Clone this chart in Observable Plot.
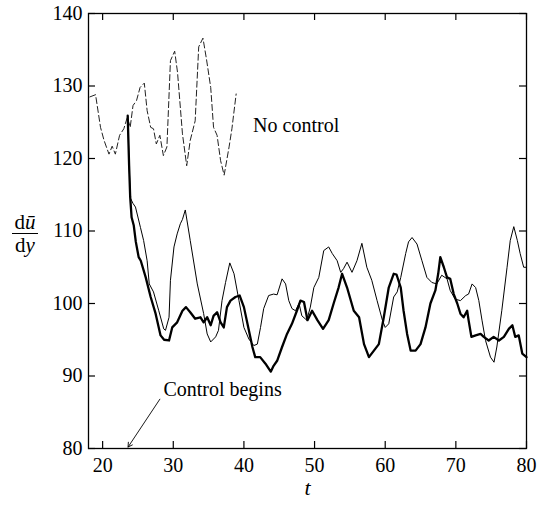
<!DOCTYPE html>
<html>
<head>
<meta charset="utf-8">
<script src="https://cdn.jsdelivr.net/npm/d3@7"></script>
<script src="https://cdn.jsdelivr.net/npm/@observablehq/plot@0.6"></script>
<style>
  body { margin: 0; background: #fff; }
  #chart svg, #chart svg text, #chart svg tspan { font-family: "Liberation Serif", "Tinos", "Times New Roman", Times, "Nimbus Roman", "Nimbus Roman No9 L", "FreeSerif", "Noto Serif", "DejaVu Serif", serif !important; }
</style>
</head>
<body>
<div id="chart"></div>
<script>
// ---- data ----
const xTicks = [20, 30, 40, 50, 60, 70, 80];
const yTicks = [80, 90, 100, 110, 120, 130, 140];

// No control (dashed)
const noCtrlT = [18.2,19.0,19.7,20.2,20.9,21.35,21.8,22.4,23.0,23.5,23.9,24.3,24.8,25.3,25.6,25.9,26.3,26.8,27.2,27.6,28.1,28.6,29.1,29.6,30.2,30.6,31.3,31.9,32.4,33.1,33.6,34.2,34.7,35.3,35.7,36.2,36.7,37.2,37.9,38.3,38.9];
const noCtrlV = [128.5,128.8,124.3,122.5,120.6,121.7,120.6,123.2,124.1,125.7,124.3,127.3,128.0,129.8,130.1,130.4,126.6,124.3,124.1,122.0,123.2,120.4,121.6,133.5,134.8,131.9,123.4,119.0,122.5,125.2,135.4,136.6,133.7,129.8,124.3,123.2,119.7,117.7,121.6,124.1,128.9];

// Control, thin line
const thinT = [23.55,23.75,23.95,24.3,24.65,25.35,25.8,26.3,26.6,27.2,27.95,28.65,28.9,29.4,29.6,30.1,30.55,31.0,31.3,31.7,32.4,33.4,34.3,34.8,35.3,36.0,36.4,36.9,37.4,38.0,38.6,39.3,40.0,40.7,41.4,41.9,42.35,42.8,43.5,44.2,44.7,45.4,45.9,46.35,46.8,47.3,47.8,48.2,48.9,49.4,49.9,50.6,51.3,52.0,52.5,53.2,53.7,54.1,54.6,55.3,56.0,56.7,57.4,58.1,58.85,59.6,60.0,60.5,61.2,61.7,62.2,62.9,63.3,63.8,64.5,65.2,65.9,66.6,67.3,68.0,68.75,69.2,69.9,70.65,71.4,71.8,72.3,72.8,73.25,73.7,74.2,74.9,75.4,75.8,76.5,77.25,77.7,78.2,78.7,79.1,79.6,80.0];
const thinV = [125.9,119.0,114.5,113.8,113.3,110.5,108.7,105.9,102.7,101.6,99.0,96.5,96.3,98.1,103.2,107.8,109.6,111.0,111.6,112.9,108.7,102.7,98.6,95.8,94.7,95.4,96.3,100.4,102.9,105.6,104.1,100.4,96.7,95.1,94.2,94.4,96.7,99.3,101.1,101.3,101.2,103.4,102.7,100.4,99.3,99.0,100.0,98.3,97.7,99.5,102.2,103.6,107.3,107.8,106.9,105.9,104.3,104.8,105.7,104.3,105.9,108.3,105.0,103.2,100.4,97.7,96.7,97.2,100.9,101.6,103.6,106.9,108.5,109.1,108.2,105.9,103.6,102.9,102.7,103.9,103.4,101.8,100.6,100.4,101.1,101.3,102.7,102.2,100.4,97.7,94.9,92.6,91.9,94.0,99.0,105.0,108.7,110.6,108.7,106.9,105.0,105.0];

// Control, thick line
const thickT = [23.55,23.75,23.9,24.1,24.4,24.7,25.1,25.4,26.1,26.8,27.5,28.2,28.7,29.4,29.85,30.55,31.3,31.8,32.4,33.1,33.85,34.3,34.8,35.3,35.7,36.2,36.7,37.15,37.6,38.1,38.8,39.4,40.0,40.7,41.2,41.6,42.3,43.05,43.8,44.2,44.7,45.4,46.1,46.8,47.5,48.0,48.5,49.0,49.65,50.4,51.2,52.0,52.7,53.4,53.9,54.6,55.55,56.3,57.0,57.7,58.4,59.1,59.8,60.5,61.2,61.6,62.2,62.6,63.1,63.6,64.3,65.0,65.7,66.4,67.1,67.5,67.8,68.3,68.75,69.2,69.7,70.2,70.65,71.1,71.6,71.8,72.2,72.8,73.5,73.95,74.65,75.35,76.1,76.8,77.5,78.0,78.4,78.9,79.4,80.0];
const thickV = [125.9,119.0,114.7,111.9,110.8,108.5,106.4,105.9,103.6,100.9,98.6,95.6,95.0,94.9,96.7,97.4,99.0,99.5,98.8,97.9,98.1,97.4,98.1,97.0,98.3,98.8,97.4,96.7,99.5,100.4,100.9,101.1,99.5,96.3,94.0,92.6,92.6,91.7,90.6,91.4,92.1,94.0,95.8,97.2,99.0,100.4,100.2,97.7,99.0,97.7,96.5,97.7,100.0,102.2,104.1,102.2,99.0,98.1,94.4,92.6,93.5,94.4,98.1,102.2,104.1,104.0,102.2,99.0,95.8,93.5,93.5,94.4,96.7,100.0,101.8,104.1,106.4,105.0,103.6,103.4,101.3,100.0,98.6,98.1,99.0,97.7,95.4,95.6,95.8,95.4,94.9,95.4,94.9,95.4,96.5,97.0,95.4,95.6,93.1,92.6];

const noCtrl = noCtrlT.map((t, i) => ({t, v: noCtrlV[i]}));
const thin = thinT.map((t, i) => ({t, v: thinV[i]}));
const thick = thickT.map((t, i) => ({t, v: thickV[i]}));

const W = 541, H = 508;
const mL = 88, mR = 15, mT = 13, mB = 60;
const fw = W - mL - mR, fh = H - mT - mB;
const tk = 7;

const svg = Plot.plot({
  width: W,
  height: H,
  marginLeft: mL,
  marginRight: mR,
  marginTop: mT,
  marginBottom: mB,
  style: {fontSize: "20px", color: "black", background: "white"},
  x: {domain: [18, 80], label: null},
  y: {domain: [80, 140], label: null},
  marks: [
    Plot.axisX(xTicks, {tickSize: 0, tickPadding: 9, fontSize: 20}),
    Plot.axisY(yTicks, {tickSize: 0, tickPadding: 6, fontSize: 20}),
    // inward ticks on all four sides
    Plot.tickX(xTicks, {x: d => d, insetTop: fh - tk, stroke: "black", strokeWidth: 1.2}),
    Plot.tickX(xTicks, {x: d => d, insetBottom: fh - tk, stroke: "black", strokeWidth: 1.2}),
    Plot.tickY(yTicks, {y: d => d, insetRight: fw - tk, stroke: "black", strokeWidth: 1.2}),
    Plot.tickY(yTicks, {y: d => d, insetLeft: fw - tk, stroke: "black", strokeWidth: 1.2}),
    Plot.line(noCtrl, {x: "t", y: "v", stroke: "#222", strokeWidth: 1, strokeDasharray: "6,3"}),
    Plot.line(thin, {x: "t", y: "v", stroke: "black", strokeWidth: 1}),
    Plot.line(thick, {x: "t", y: "v", stroke: "black", strokeWidth: 2.3}),
    Plot.text(["No control"], {x: 41.3, y: 123.7, text: d => d, textAnchor: "start", lineAnchor: "bottom", fontSize: 20, fill: "black"}),
    Plot.text(["Control begins"], {x: 28.6, y: 87.3, text: d => d, textAnchor: "start", lineAnchor: "bottom", fontSize: 20, fill: "black"}),
    Plot.arrow([0], {x1: 28.1, y1: 86.8, x2: 23.6, y2: 80.2, stroke: "black", strokeWidth: 0.9, headLength: 8}),
    Plot.text(["t"], {frameAnchor: "bottom", dy: 46, text: d => d, fontStyle: "italic", fontSize: 22, fill: "black"}),
    Plot.frame({stroke: "black", strokeWidth: 1.3})
  ]
});

// y-axis label as a fraction d(u-bar)/dy
const g = d3.select(svg).append("g")
  .attr("font-size", 21)
  .attr("fill", "black")
  .attr("text-anchor", "middle");
const num = g.append("text").attr("x", 25).attr("y", 229);
num.append("tspan").text("d");
num.append("tspan").attr("font-style", "italic").text("\u016B");
g.append("line").attr("x1", 12).attr("x2", 38).attr("y1", 233.5).attr("y2", 233.5)
  .attr("stroke", "black").attr("stroke-width", 1);
const den = g.append("text").attr("x", 25).attr("y", 252);
den.append("tspan").text("d");
den.append("tspan").attr("font-style", "italic").text("y");

document.getElementById("chart").appendChild(svg);
</script>
</body>
</html>
